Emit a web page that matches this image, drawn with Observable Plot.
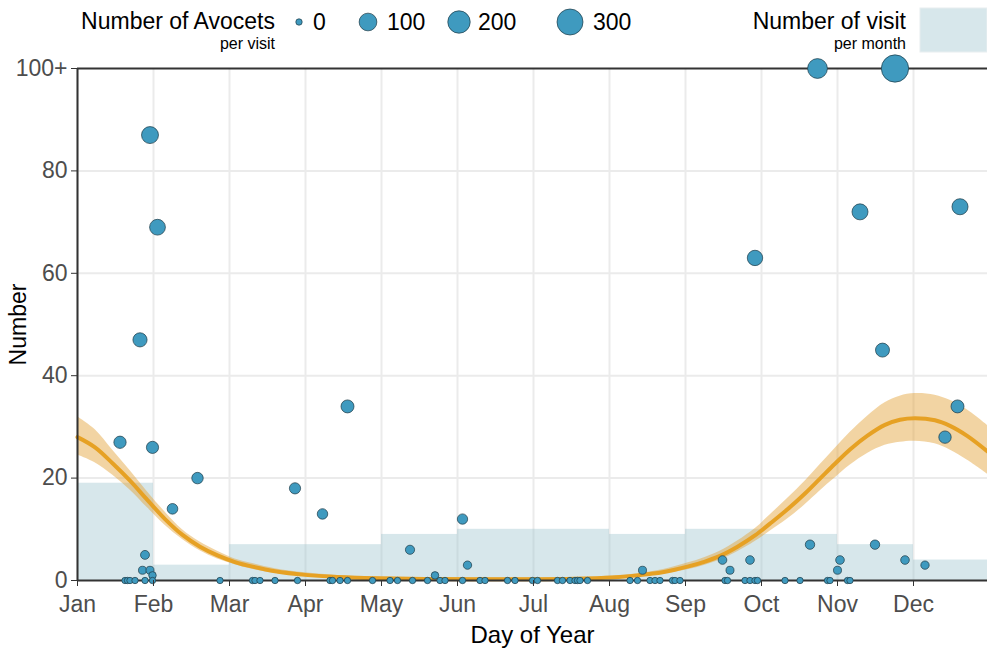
<!DOCTYPE html>
<html><head><meta charset="utf-8">
<script src="https://cdn.jsdelivr.net/npm/d3@7"></script>
<script src="https://cdn.jsdelivr.net/npm/@observablehq/plot@0.6"></script>
<style>
body{margin:0;background:#fff;font-family:"Liberation Sans",Arial,sans-serif;}
#wrap{position:relative;width:987px;height:648px;overflow:hidden;}
#wrap svg{position:absolute;left:0;top:0;}
</style></head><body><div id="wrap"></div>
<script>
// ---- data ----
const monthLabels = ["Jan","Feb","Mar","Apr","May","Jun","Jul","Aug","Sep","Oct","Nov","Dec"];
const monthStart = [1, 31.4, 61.8, 92.2, 122.6, 153, 183.4, 213.8, 244.2, 274.6, 305, 335.4];
const monthEnd   = [31.4, 61.8, 92.2, 122.6, 153, 183.4, 213.8, 244.2, 274.6, 305, 335.4, 365.8];
const visitsPerMonth = [19, 3, 7, 7, 9, 10, 10, 9, 10, 9, 7, 4];
const yTicks = [0, 20, 40, 60, 80, 100];

const visitDay = [18,20,21,22,24,26,27,28,28,30,30,31,31,31,33,39,49,58,71,72,74,80,88,89,99,102,103,106,109,109,
  119,126,129,134,135,141,144,146,148,155,155,157,162,164,173,176,183,185,193,195,198,200,201,202,205,
  222,225,227,230,232,234,239,240,242,259,260,261,262,268,270,270,272,272,273,284,290,294,297,301,302,
  305,306,309,310,314,320,323,328,332,340,348,353,354];
const visitCount = [27,0,0,0,0,47,2,0,5,87,2,0,26,1,69,14,20,0,0,0,0,0,18,0,13,0,0,0,0,34,
  0,0,0,6,0,0,1,0,0,0,12,3,0,0,0,0,0,0,0,0,0,0,0,0,0,
  0,0,2,0,0,0,0,0,0,4,0,0,2,0,0,4,0,63,0,0,0,7,140,0,0,
  2,4,0,0,72,7,45,340,4,3,28,34,73];

const curveDay = [1,8,15,22,29,36,43,50,57,64,71,80,92,105,120,140,160,180,200,215,225,235,245,252,258,265,272,278,285,292,298,304,310,317,324,330,336,344,350,357,365];
const curveFit = [28.0,26.0,22.9,19.5,15.7,12.0,8.9,6.6,4.9,3.6,2.7,1.8,1.1,0.7,0.45,0.3,0.25,0.25,0.35,0.6,1.0,1.6,2.7,3.7,4.8,6.6,8.8,11.1,13.9,17.0,19.9,22.8,25.6,28.3,30.4,31.4,31.7,31.3,30.2,28.2,25.2];
const curveLo  = [24.5,23.0,20.6,17.7,14.2,10.8,8.0,5.8,4.2,3.1,2.2,1.4,0.8,0.45,0.25,0.15,0.1,0.1,0.2,0.4,0.7,1.2,2.1,3.0,4.0,5.6,7.6,9.6,12.0,14.8,17.5,20.0,22.5,24.8,26.4,27.0,27.2,26.7,25.5,23.5,20.8];
const curveHi  = [32.0,29.5,25.5,21.5,17.3,13.4,9.9,7.5,5.7,4.2,3.3,2.3,1.5,1.0,0.75,0.6,0.55,0.55,0.6,0.9,1.3,2.1,3.4,4.5,5.7,7.7,10.1,12.8,16.0,19.4,22.6,25.8,28.9,32.1,34.7,36.0,36.5,36.2,35.2,33.3,30.3];

const legendSizes = [0, 100, 200, 300];

// ---- tables ----
const visits = visitDay.map((d, i) => ({day: d, n: visitCount[i], y: Math.min(visitCount[i], 100)}));
const months = monthLabels.map((m, i) => ({m, x1: monthStart[i], x2: monthEnd[i], v: visitsPerMonth[i]}));
const curve = curveDay.map((d, i) => ({day: d, fit: curveFit[i], lo: curveLo[i], hi: curveHi[i]}));

const axisCol = "#4d4d4d";
const plot = Plot.plot({
  width: 987, height: 648,
  marginLeft: 77, marginRight: 0, marginTop: 68, marginBottom: 68,
  x: {domain: [1, 365]},
  y: {domain: [0, 100]},
  r: {type: "sqrt", domain: [0, 300], range: [3.2, 13]},
  style: {fontFamily: "'Liberation Sans', Arial, sans-serif", fontSize: "23px", overflow: "visible", background: "transparent"},
  marks: [
    Plot.gridY([20, 40, 60, 80], {stroke: "#ebebeb", strokeOpacity: 1, strokeWidth: 2}),
    Plot.gridX(monthStart, {stroke: "#ebebeb", strokeOpacity: 1, strokeWidth: 2}),
    Plot.rect(months, {x1: "x1", x2: "x2", y1: 0, y2: "v", fill: "#9fc5cf", fillOpacity: 0.42}),
    Plot.areaY(curve, {x: "day", y1: "lo", y2: "hi", fill: "#e2a033", fillOpacity: 0.45, curve: "catmull-rom"}),
    Plot.lineY(curve, {x: "day", y: "fit", stroke: "#e6a124", strokeWidth: 4, curve: "catmull-rom"}),
    Plot.ruleY([0], {stroke: "#333", strokeWidth: 2}),
    Plot.ruleY([100], {stroke: "#333", strokeWidth: 2}),
    Plot.ruleX([1], {stroke: "#333", strokeWidth: 2}),
    Plot.dot(visits, {x: "day", y: "y", r: "n", fill: "#3f9abf", stroke: "#1d3a45", strokeWidth: 0.7}),
    Plot.axisY(yTicks, {tickFormat: d => d === 100 ? "100+" : String(d), tickSize: 6, tickPadding: 4, stroke: "#333", fill: axisCol, fontSize: 23, label: null}),
    Plot.axisX(monthStart, {tickFormat: d => monthLabels[monthStart.indexOf(d)], tickSize: 6, tickPadding: 9, stroke: "#333", fill: axisCol, fontSize: 23, label: null}),
    Plot.text(["Number"], {frameAnchor: "left", dx: -59, rotate: -90, textAnchor: "middle", fontSize: 23, fill: "#000", text: d => d}),
    Plot.text(["Day of Year"], {frameAnchor: "bottom", dy: 62, fontSize: 24, fill: "#000", text: d => d})
  ]
});
document.getElementById("wrap").appendChild(plot);

// ---- legend (own svg above the chart) ----
const rScale = plot.scale("r");
const lg = d3.select("#wrap").append("svg").attr("width", 987).attr("height", 58)
  .style("font-family", "'Liberation Sans', Arial, sans-serif");
lg.append("text").attr("x", 275).attr("y", 29).attr("text-anchor", "end").attr("font-size", 23).text("Number of Avocets");
lg.append("text").attr("x", 275).attr("y", 49).attr("text-anchor", "end").attr("font-size", 16).text("per visit");
const lgX = [299, 368, 459, 570];
const lgLabelX = [313, 387, 478, 593];
legendSizes.forEach((v, i) => {
  const r = rScale.apply(v);
  lg.append("circle").attr("cx", lgX[i]).attr("cy", 22).attr("r", r).attr("fill", "#3f9abf").attr("stroke", "#1d3a45").attr("stroke-width", 0.7);
  lg.append("text").attr("x", lgLabelX[i]).attr("y", 30).attr("font-size", 23).text(String(v));
});
lg.append("text").attr("x", 906).attr("y", 29).attr("text-anchor", "end").attr("font-size", 23).text("Number of visit");
lg.append("text").attr("x", 906).attr("y", 49).attr("text-anchor", "end").attr("font-size", 16).text("per month");
lg.append("rect").attr("x", 920).attr("y", 8).attr("width", 67).attr("height", 44).attr("fill", "#9fc5cf").attr("fill-opacity", 0.42).attr("stroke", "#e8eef0");
</script></body></html>
